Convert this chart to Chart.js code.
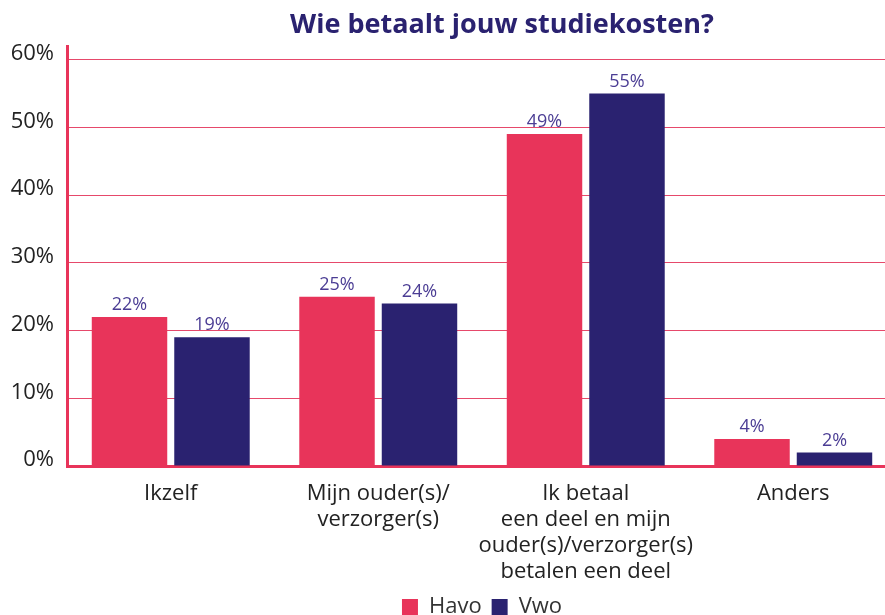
<!DOCTYPE html>
<html>
<head>
<meta charset="utf-8">
<script src="https://cdn.jsdelivr.net/npm/chart.js@4"></script>
<style>
    html, body { margin: 0; padding: 0; overflow: hidden; background: #fff; }
    #wrap { position: relative; width: 900px; height: 628px; }
    #title {
        position: absolute; left: 0; top: 6px; width: 1004px;
        text-align: center; font: bold 27px "Open Sans", sans-serif; color: #2a2270;
        line-height: 34px;
    }
</style>
</head>
<body>
<div id="wrap">
    <canvas id="costChart" width="900" height="628"></canvas>
    <div id="title">Wie betaalt jouw studiekosten?</div>
</div>
<script>
const categories = [
    "Ikzelf",
    ["Mijn ouder(s)/", "verzorger(s)"],
    ["Ik betaal", "een deel en mijn", "ouder(s)/verzorger(s)", "betalen een deel"],
    "Anders"
];
const havo = [22, 25, 49, 4];
const vwo = [19, 24, 55, 2];
const yTicks = [0, 10, 20, 30, 40, 50, 60];

const RED = "#e8345a";
const NAVY = "#2a2270";
const FONT = "'Open Sans', sans-serif";

// value labels above each bar
const valueLabels = {
    id: "valueLabels",
    afterDatasetsDraw(chart) {
        const ctx = chart.ctx;
        ctx.save();
        ctx.font = "18px " + FONT;
        ctx.fillStyle = "#4b3d94";
        ctx.textAlign = "center";
        ctx.textBaseline = "bottom";
        chart.data.datasets.forEach((ds, i) => {
            chart.getDatasetMeta(i).data.forEach((bar, j) => {
                ctx.fillText(ds.data[j] + "%", bar.x, bar.y - 3);
            });
        });
        ctx.restore();
    }
};

new Chart(document.getElementById("costChart"), {
    type: "bar",
    data: {
        labels: categories,
        datasets: [
            { label: "Havo", data: havo, backgroundColor: RED },
            { label: "Vwo", data: vwo, backgroundColor: NAVY }
        ]
    },
    options: {
        responsive: false,
        animation: false,
        categoryPercentage: 0.795,
        barPercentage: 0.915,
        layout: { padding: { top: 46, right: 3, bottom: 0, left: 0 } },
        plugins: {
            title: { display: false },
            tooltip: { enabled: false },
            legend: {
                position: "bottom",
                fullSize: false,
                labels: {
                    boxWidth: 16,
                    boxHeight: 16,
                    padding: 10,
                    color: "#333",
                    font: { family: FONT, size: 22 }
                }
            }
        },
        scales: {
            x: {
                afterFit: axis => { axis.height = 120; },
                grid: { display: false, drawTicks: false },
                border: { color: RED, width: 3 },
                ticks: {
                    color: "#222",
                    padding: 15,
                    maxRotation: 0,
                    autoSkip: false,
                    font: { family: FONT, size: 22, lineHeight: 1.18 }
                }
            },
            y: {
                min: 0,
                max: 62,
                afterBuildTicks: axis => { axis.ticks = yTicks.map(v => ({ value: v })); },
                afterFit: axis => { axis.width = 67; },
                grid: { color: "#e6496b", lineWidth: 1, drawTicks: false },
                border: { color: RED, width: 3 },
                ticks: {
                    color: "#222",
                    padding: 13,
                    labelOffset: -6,
                    font: { family: FONT, size: 22 },
                    callback: v => v + "%"
                }
            }
        }
    },
    plugins: [valueLabels]
});
</script>
</body>
</html>
